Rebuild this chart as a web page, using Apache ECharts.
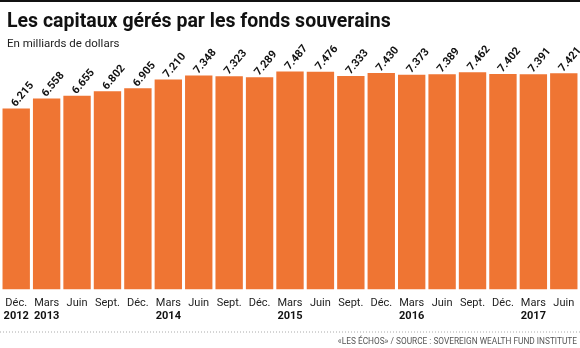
<!DOCTYPE html>
<html><head><meta charset="utf-8">
<script src="https://cdn.jsdelivr.net/npm/echarts@6/dist/echarts.min.js"></script>
<style>html,body{margin:0;padding:0;background:#fff}#c{width:580px;height:348px}</style>
</head><body><div id="c"></div>
<script>
const months = ["Déc.","Mars","Juin","Sept.","Déc.","Mars","Juin","Sept.","Déc.","Mars","Juin","Sept.","Déc.","Mars","Juin","Sept.","Déc.","Mars","Juin"];
const years = ["2012","2013","","","","2014","","","","2015","","","","2016","","","","2017",""];
const values = [6.215,6.558,6.655,6.802,6.905,7.210,7.348,7.323,7.289,7.487,7.476,7.333,7.430,7.373,7.389,7.462,7.402,7.391,7.421];
const categories = months.map((m,i)=>i+"");

const chart = echarts.init(document.getElementById('c'), null, {renderer:'canvas'});
const FONT = 'Roboto, "Liberation Sans", sans-serif';
chart.setOption({
  animation:false,
  backgroundColor:'#fff',
  title:[
    {text:'Les capitaux gérés par les fonds souverains', left:2, top:7,
     textStyle:{fontFamily:FONT,fontSize:19.5,fontWeight:'bold',color:'#111'}},
    {text:'En milliards de dollars', left:2, top:33,
     textStyle:{fontFamily:FONT,fontSize:11.5,fontWeight:'normal',color:'#222'}}
  ],
  grid:{left:1,right:1,top:56.5,bottom:58.7},
  xAxis:{type:'category',data:categories,
    axisLine:{show:false},axisTick:{show:false},
    axisLabel:{interval:0,margin:7,
      formatter:(v,i)=>'{m|'+months[i]+'}\n{y|'+(years[i]||' ')+'}',
      rich:{m:{fontFamily:FONT,fontSize:11,color:'#222',lineHeight:13},
            y:{fontFamily:FONT,fontSize:11,fontWeight:'bold',color:'#111',lineHeight:14}}}},
  yAxis:{type:'value',min:0,max:8,show:false,splitLine:{show:false}},
  series:[{type:'bar',data:values,barCategoryGap:'10%',
    itemStyle:{color:'#EF7533'},
    label:{show:true,position:'top',rotate:50,align:'left',verticalAlign:'middle',
      distance:6,offset:[-4,0],
      formatter:p=>p.value.toFixed(3),
      fontFamily:FONT,fontSize:11,fontWeight:'bold',color:'#111'}}],
  graphic:[
    {type:'rect',left:0,top:0,shape:{width:580,height:2},style:{fill:'#111'}},
    {type:'line',shape:{x1:0,y1:332,x2:580,y2:332},style:{stroke:'#aaa',lineWidth:1,lineDash:[1,2]}},
    {type:'text',right:3,top:338,style:{text:'«LES ÉCHOS» / SOURCE : SOVEREIGN WEALTH FUND INSTITUTE',
      fontFamily:FONT,fontSize:8.3,fill:'#555'}}
  ]
});
</script></body></html>
